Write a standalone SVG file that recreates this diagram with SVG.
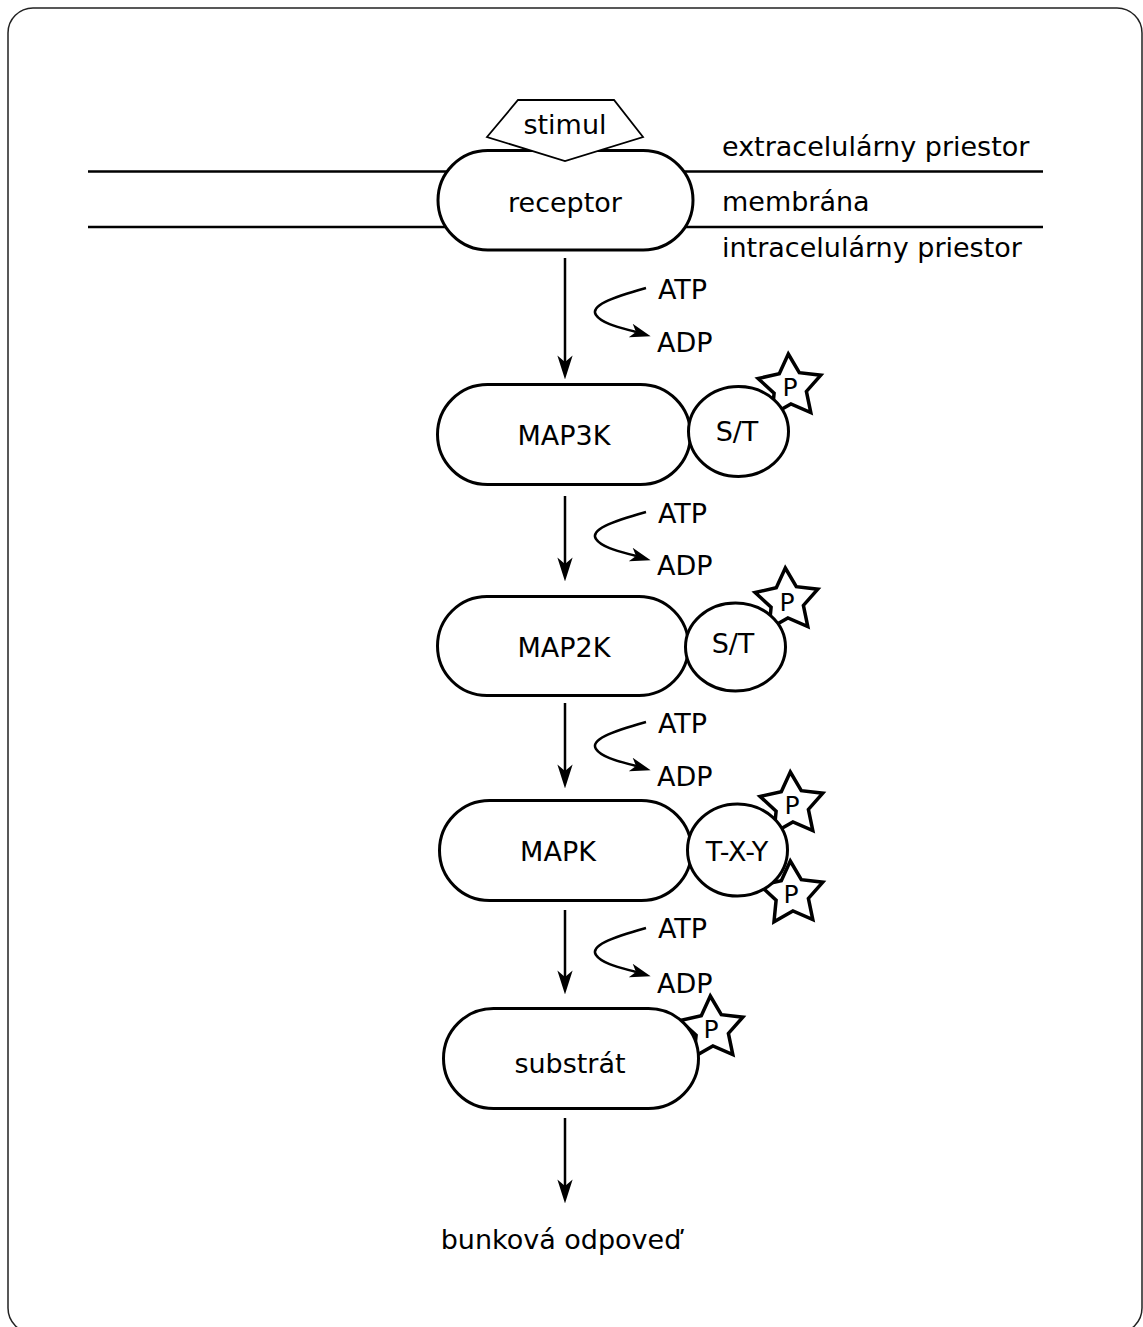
<svg xmlns="http://www.w3.org/2000/svg" xmlns:xlink="http://www.w3.org/1999/xlink" width="1143" height="1327" viewBox="0 0 1143 1327">
<style>
text{font-family:"DejaVu Sans","Verdana",sans-serif;font-size:27px;fill:#000}
.c{text-anchor:middle}
.shape{fill:#fff;stroke:#000;stroke-width:3}
.mem{stroke:#000;stroke-width:2.5;fill:none}
.arr{stroke:#000;stroke-width:2.5;fill:none;marker-end:url(#ah)}
.cur{stroke:#000;stroke-width:2.5;fill:none;marker-end:url(#ah2)}
.star{fill:#fff;stroke:#000;stroke-width:3.5;stroke-linejoin:miter}
.p{font-size:25px;text-anchor:middle}
</style>
<defs>
<marker id="ah" markerUnits="userSpaceOnUse" markerWidth="24" markerHeight="20" viewBox="0 -8 22 16" refX="6" refY="0" orient="auto">
<path d="M0,-7 L22,0 L0,7 L6,0 z" fill="#000"/>
</marker>
<marker id="ah2" markerUnits="userSpaceOnUse" markerWidth="24" markerHeight="20" viewBox="0 -8 22 16" refX="5" refY="0" orient="auto">
<path d="M0,-6.5 L19,0 L0,6.5 L5,0 z" fill="#000"/>
</marker>
<polygon id="star" points="-1.7,-33 9.3,-14.3 30.8,-11.8 16.4,4.4 20.8,25.6 0.9,17 -18,27.7 -15.9,6.1 -31.9,-8.5 -10.7,-13.2"/>
</defs>

<rect x="8" y="8" width="1134" height="1325" rx="25" fill="#fff" stroke="#222" stroke-width="1.5"/>

<g id="membrane">
<line class="mem" x1="88" y1="171.5" x2="1043" y2="171.5"/>
<line class="mem" x1="88" y1="227" x2="1043" y2="227"/>
<text x="722" y="156">extracelulárny priestor</text>
<text x="722" y="211">membrána</text>
<text x="722" y="257">intracelulárny priestor</text>
</g>

<g id="receptor">
<rect class="shape" x="438" y="150.5" width="255" height="99.5" rx="49.75"/>
<text class="c" x="565" y="212">receptor</text>
</g>

<g id="stimul">
<polygon points="518,100 614,100 643,137 565,161 487,137" fill="#fff" stroke="#000" stroke-width="1.8"/>
<text class="c" x="565" y="134">stimul</text>
</g>

<g id="MAP3K">
<rect class="shape" x="437.5" y="384.5" width="253" height="100" rx="50"/>
<text class="c" x="564" y="445">MAP3K</text>
</g>
<g id="MAP3K-ST">
<use href="#star" class="star" x="790" y="387"/>
<text class="p" x="790" y="396">P</text>
<ellipse class="shape" cx="738.5" cy="431.5" rx="50" ry="45"/>
<text class="c" x="737" y="441">S/T</text>
</g>

<g id="MAP2K">
<rect class="shape" x="437.5" y="596.5" width="251" height="99" rx="49.5"/>
<text class="c" x="564" y="657">MAP2K</text>
</g>
<g id="MAP2K-ST">
<use href="#star" class="star" x="787" y="601"/>
<text class="p" x="787" y="611">P</text>
<ellipse class="shape" cx="735.5" cy="647" rx="50" ry="44"/>
<text class="c" x="733" y="653">S/T</text>
</g>

<g id="MAPK">
<rect class="shape" x="439.5" y="800.5" width="252" height="100" rx="50"/>
<text class="c" x="558" y="861">MAPK</text>
</g>
<g id="MAPK-TXY">
<use href="#star" class="star" x="792" y="805"/>
<text class="p" x="792" y="814">P</text>
<use href="#star" class="star" x="792" y="894"/>
<text class="p" x="791" y="903">P</text>
<ellipse class="shape" cx="737.5" cy="850" rx="50" ry="46"/>
<text class="c" x="737" y="861">T-X-Y</text>
</g>

<g id="substrat">
<use href="#star" class="star" x="712" y="1029"/>
<text class="p" x="711" y="1038">P</text>
<rect class="shape" x="443.5" y="1008.5" width="255" height="100" rx="50"/>
<text class="c" x="570" y="1073">substrát</text>
</g>

<g id="response">
<text class="c" x="561" y="1249">bunková odpoveď</text>
</g>

<g id="connectors">
<line class="arr" x1="565" y1="258" x2="565" y2="362"/>
<line class="arr" x1="565" y1="496" x2="565" y2="564"/>
<line class="arr" x1="565" y1="703" x2="565" y2="771"/>
<line class="arr" x1="565" y1="910" x2="565" y2="977"/>
<line class="arr" x1="565" y1="1118" x2="565" y2="1186"/>
<path class="cur" d="M646,288 C610,298 590,306 596,315 C602,324 622,328 636,332"/>
<path class="cur" d="M646,512 C610,522 590,530 596,539 C602,548 622,552 636,556"/>
<path class="cur" d="M646,722 C610,732 590,740 596,749 C602,758 622,762 636,766"/>
<path class="cur" d="M646,928 C610,938 590,946 596,955 C602,964 622,968 636,972"/>
</g>

<g id="labels">
<text x="658" y="299">ATP</text>
<text x="657" y="352">ADP</text>
<text x="658" y="523">ATP</text>
<text x="657" y="575">ADP</text>
<text x="658" y="733">ATP</text>
<text x="657" y="786">ADP</text>
<text x="658" y="938">ATP</text>
<text x="657" y="993">ADP</text>
</g>
</svg>
